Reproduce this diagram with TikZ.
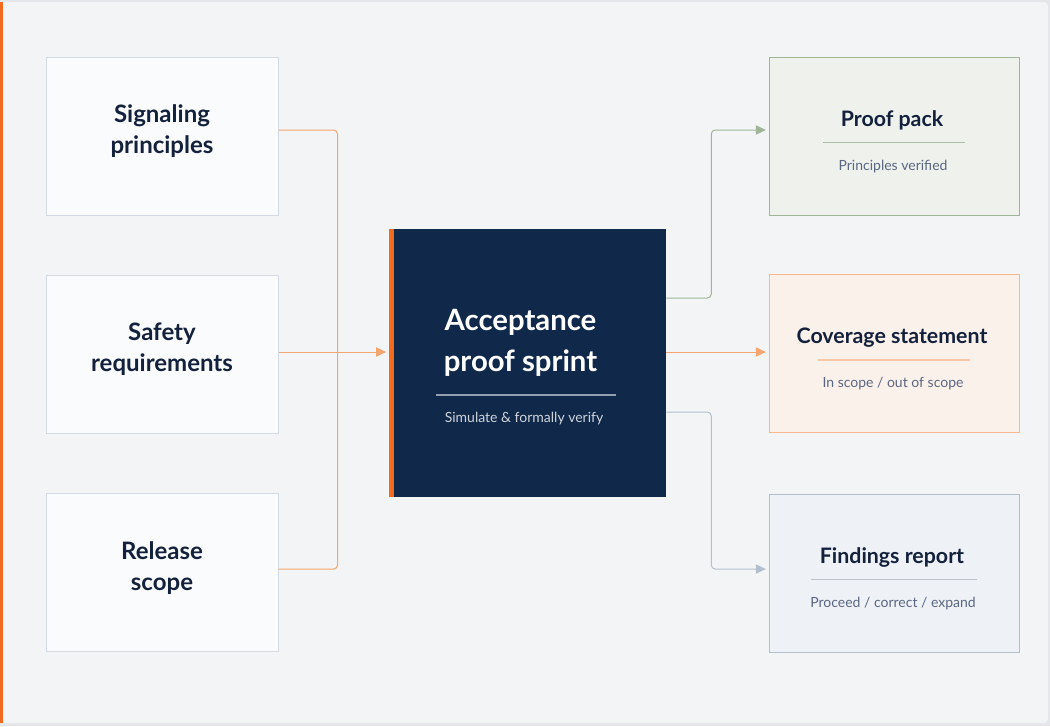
\documentclass[tikz,border=0pt]{standalone}
\usepackage{fontspec}
\setmainfont{Lato}
\usetikzlibrary{arrows.meta,calc}

\definecolor{bgcol}{HTML}{F3F4F6}
\definecolor{framecol}{HTML}{E4E6E9}
\definecolor{accent}{HTML}{F26B1D}
\definecolor{navy}{HTML}{10284A}
\definecolor{ink}{HTML}{13213D}
\definecolor{subink}{HTML}{5A6782}
\definecolor{infill}{HTML}{FAFBFC}
\definecolor{inline}{HTML}{D3DAE4}
\definecolor{linkO}{HTML}{F5A670}
\definecolor{greenln}{HTML}{A0B497}
\definecolor{greenfill}{HTML}{EEF1EC}
\definecolor{orfill}{HTML}{FBF1EB}
\definecolor{orln}{HTML}{F6B88E}
\definecolor{grayln}{HTML}{B4BFCD}
\definecolor{grayfill}{HTML}{EEF1F5}

\tikzset{
  inbox/.style={draw=inline, fill=infill, line width=0.75pt,
    minimum width=174pt, minimum height=118.5pt, align=center, text depth=10pt,
    text=ink, font=\fontsize{18}{23}\selectfont\bfseries},
  outbox/.style={line width=0.75pt, minimum width=187.5pt, minimum height=118.5pt},
  outtitle/.style={text=ink, font=\fontsize{16}{20}\selectfont\bfseries},
  outsub/.style={text=subink, font=\fontsize{10.5}{13}\selectfont},
  link/.style={line width=0.75pt, rounded corners=3pt},
  tip/.style={-{Triangle[length=7.5pt,width=7pt]}, shorten >=2pt}
}

\begin{document}
\begin{tikzpicture}[x=0.75pt, y=-0.75pt]
  \useasboundingbox (0,0) rectangle (1050,726);
  % Backdrop
  \fill[framecol] (0,0) rectangle (1050,726);
  \fill[bgcol, rounded corners=3pt] (0,2) rectangle (1048,723);
  \fill[accent] (0,2) rectangle (3,723);

  % Inputs
  \foreach \nm/\y/\txt in {sig/136/{Signaling\\principles},
                           saf/354/{Safety\\requirements},
                           rel/572.5/{Release\\scope}} {
    \node[inbox] (\nm) at (162, \y) {\txt};
  }

  % Sprint box
  \node[fill=navy, minimum width=207.75pt, minimum height=201pt] (aps) at (527.5, 363) {};
  \fill[accent] (aps.north west) rectangle ($(aps.south west)+(5,0)$);
  \node[text=white, align=center, font=\fontsize{22}{30.5}\selectfont\bfseries]
    (apstitle) at ($(aps.center)+(-7,-20)$) {Acceptance\\proof sprint};
  \draw[line width=0.8pt, color=white!55!navy]
    ($(aps.center)+(-91.5,32)$) -- ($(aps.center)+(88.5,32)$);
  \node[text=white!80!navy, font=\fontsize{10.5}{13}\selectfont]
    (apssub) at ($(aps.center)+(-3.5,56)$) {Simulate \& formally verify};

  % Outputs
  \foreach \nm/\y/\fc/\lc/\sc/\w/\ttl/\sub in {
      pp/136/greenfill/greenln/greenln!85/71/{Proof pack}/{Principles verified},
      cov/353.5/orfill/orln/orln!80/76/{Coverage statement}/{In scope / out of scope},
      fin/573/grayfill/grayln/grayln!90/83/{Findings report}/{Proceed / correct / expand}} {
    \node[outbox, fill=\fc, draw=\lc] (\nm) at (894, \y) {};
    \node[outtitle] (\nm title) at ($(\nm.center)+(-2,-15.5)$) {\ttl};
    \draw[line width=0.8pt, color=\sc]
      ($(\nm.center)+(-\w,6.5)$) -- ($(\nm.center)+(\w,6.5)$);
    \node[outsub] (\nm sub) at ($(\nm.center)+(-1,30.5)$) {\sub};
  }

  % Links in
  \draw[link, linkO] ($(sig.east)+(0,-6)$) -- ++(59,0) |- ($(rel.east)+(0,-3.5)$);
  \coordinate (inL) at ($(saf.east)+(0,-2)$);
  \draw[link, linkO, tip] (inL) -- (inL -| aps.west);

  % Links out
  \draw[link, greenln, tip] ($(aps.east)+(0,-65)$) -- ++(45,0) |- ($(pp.west)+(0,-6)$);
  \coordinate (outM) at ($(aps.east)+(0,-11)$);
  \draw[link, linkO, tip] (outM) -- (outM -| cov.west);
  \draw[link, grayln, tip] ($(aps.east)+(0,49)$) -- ++(45,0) |- ($(fin.west)+(0,-4)$);
\end{tikzpicture}
\end{document}
